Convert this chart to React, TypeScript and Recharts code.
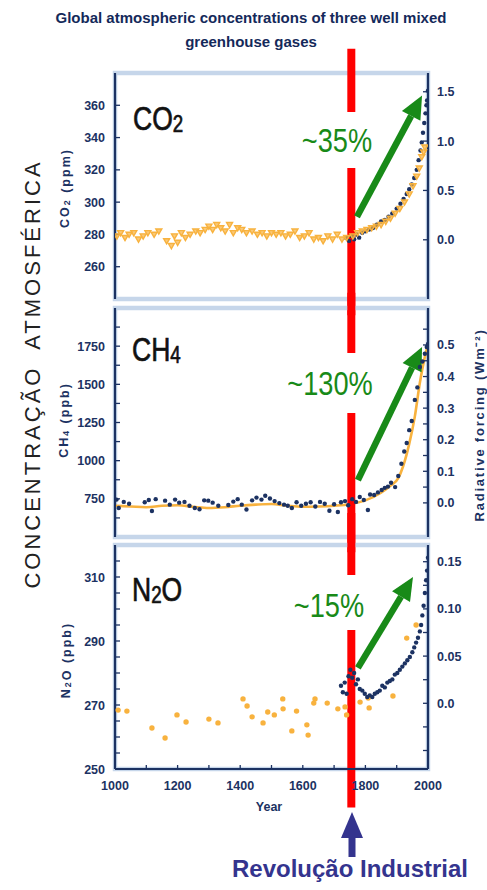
import React from "react";
import {
  ComposedChart,
  Line,
  Scatter,
  XAxis,
  YAxis,
  ReferenceLine,
  ReferenceArea,
} from "recharts";

const FONT = "'Liberation Sans', Arial, sans-serif";
const NAVY = "#1c3262";
const ORANGE = "#f8b23e";
const RED = "#ff0000";
const GREEN = "#188a18";
const INDIGO = "#34348e";
const HALO = "#c6d6ea";

// year of the industrial revolution marker
const REVOLUCAO = 1755;

type Pt = [number, number];
const rows = (pts: Pt[]) => pts.map(([year, value]) => ({ year, value }));

const years100 = [1000, 1100, 1200, 1300, 1400, 1500, 1600, 1700, 1800, 1900, 2000];
const years200 = [1000, 1200, 1400, 1600, 1800, 2000];

// ---- CO2 ----
const co2IceCore: Pt[] = [
  [1006, 279], [1018, 281], [1032, 278], [1045, 280], [1060, 281], [1075, 277], [1090, 279],
  [1105, 281], [1125, 280], [1140, 282], [1165, 276], [1180, 273], [1190, 279], [1200, 275],
  [1212, 281], [1225, 278], [1240, 280], [1258, 282], [1272, 281], [1288, 283], [1300, 285],
  [1312, 283], [1325, 286], [1338, 284], [1352, 282], [1366, 286], [1378, 281], [1392, 284],
  [1405, 283], [1420, 281], [1438, 282], [1455, 280], [1470, 281], [1485, 279], [1500, 281],
  [1515, 280], [1530, 281], [1545, 279], [1560, 280], [1575, 282], [1590, 278], [1605, 279],
  [1620, 281], [1635, 277], [1650, 278], [1665, 276], [1680, 279], [1695, 277], [1710, 280],
  [1725, 277], [1740, 278], [1760, 279], [1775, 281], [1790, 282], [1805, 283], [1820, 284],
  [1835, 285], [1850, 286], [1865, 288], [1880, 290], [1895, 293], [1910, 296], [1925, 300],
  [1940, 305], [1952, 310], [1964, 316], [1972, 321], [1980, 328], [1986, 331], [1990, 334],
];
const co2Direct: Pt[] = [
  [1738, 278], [1748, 276], [1756, 279], [1764, 277], [1772, 280], [1780, 278], [1790, 281],
  [1800, 282], [1812, 283], [1824, 284], [1836, 286], [1850, 288], [1862, 289], [1874, 291],
  [1886, 293], [1900, 296], [1912, 299], [1922, 302], [1932, 305], [1940, 308], [1948, 311],
  [1956, 315], [1964, 320], [1970, 326], [1976, 332], [1980, 337], [1984, 343], [1988, 349],
  [1992, 355], [1995, 360], [1997, 363], [2000, 369],
];
const co2LeftTicks = [260, 280, 300, 320, 340, 360];
const co2RightTicks = [0, 0.5, 1.0, 1.5];

// ---- CH4 ----
const ch4Smooth: Pt[] = [
  [1000, 705], [1050, 700], [1100, 695], [1150, 705], [1200, 708], [1250, 698], [1300, 690],
  [1350, 695], [1400, 705], [1450, 712], [1500, 716], [1550, 705], [1600, 698], [1650, 700],
  [1700, 705], [1750, 715], [1800, 740], [1850, 790], [1880, 835], [1905, 885], [1920, 960],
  [1940, 1110], [1958, 1290], [1974, 1510], [1990, 1680], [2000, 1760],
];
const ch4Samples: Pt[] = [
  [1005, 745], [1012, 690], [1028, 730], [1045, 718], [1095, 728], [1108, 742], [1118, 670],
  [1130, 748], [1160, 738], [1175, 712], [1192, 745], [1205, 725], [1222, 730], [1238, 705],
  [1255, 690], [1270, 682], [1285, 740], [1298, 738], [1312, 725], [1330, 705], [1362, 710],
  [1378, 732], [1392, 748], [1405, 712], [1420, 680], [1438, 740], [1452, 758], [1468, 745],
  [1480, 770], [1495, 752], [1510, 735], [1525, 722], [1540, 712], [1552, 705], [1565, 690],
  [1580, 728], [1595, 705], [1610, 718], [1625, 728], [1640, 700], [1655, 730], [1670, 718],
  [1685, 672], [1700, 715], [1712, 664], [1722, 728], [1735, 735], [1745, 708], [1758, 748],
  [1770, 730], [1782, 762], [1795, 742], [1808, 677], [1815, 778], [1828, 775], [1840, 792],
  [1852, 808], [1862, 822], [1872, 830], [1882, 855], [1895, 827], [1905, 900], [1915, 980],
  [1924, 1060], [1932, 1116], [1940, 1200], [1948, 1260], [1958, 1398], [1966, 1480],
  [1974, 1614], [1982, 1650], [1990, 1700], [1996, 1745], [2000, 1765],
];
const ch4LeftTicks = [625, 750, 875, 1000, 1125, 1250, 1375, 1500, 1625, 1750, 1875];
const ch4LeftLabels = [750, 1000, 1250, 1500, 1750];
const ch4RightTicks = [0, 0.05, 0.1, 0.15, 0.2, 0.25, 0.3, 0.35, 0.4, 0.45, 0.5, 0.55];
const ch4RightLabels = [0, 0.1, 0.2, 0.3, 0.4, 0.5];

// ---- N2O ----
const n2oIceCore: Pt[] = [
  [1010, 268.4], [1038, 268.1], [1118, 262.8], [1160, 259.7], [1198, 266.9], [1227, 264.7],
  [1300, 265.6], [1329, 264.4], [1409, 271.9], [1422, 269.7], [1438, 266.3], [1473, 264.4],
  [1488, 267.8], [1509, 266.9], [1536, 271.9], [1537, 268.8], [1565, 261.9], [1580, 268.1],
  [1613, 263.8], [1617, 260.6], [1635, 270.6], [1639, 271.9], [1678, 270.6], [1712, 268.8],
  [1735, 269.4], [1740, 266.9], [1783, 270.9], [1809, 272.2], [1812, 269.1], [1888, 272.8],
  [1932, 290.9], [1962, 295.0],
];
const n2oRecent: Pt[] = [
  [1722, 276], [1728, 274], [1734, 277], [1740, 273.5], [1746, 279], [1752, 281], [1758, 278.5],
  [1764, 280], [1770, 276.5], [1776, 278], [1782, 275], [1790, 274.5], [1798, 273.5],
  [1806, 272.5], [1814, 273], [1822, 272.5], [1830, 273.5], [1838, 274], [1846, 274.5],
  [1854, 276], [1862, 275.5], [1870, 277], [1878, 277.5], [1886, 278], [1894, 279.5],
  [1902, 280], [1910, 281], [1918, 282], [1926, 283], [1934, 284], [1942, 285], [1950, 286.5],
  [1956, 288], [1962, 289.5], [1968, 291], [1974, 293], [1978, 295], [1982, 298], [1986, 301],
  [1990, 305], [1994, 309], [1997, 312], [2000, 316],
];
const n2oLeftTicks = [250, 255, 260, 265, 270, 275, 280, 285, 290, 295, 300, 305, 310, 315];
const n2oLeftLabels = [250, 270, 290, 310];
const n2oRightTicks = [-0.05, -0.025, 0, 0.025, 0.05, 0.075, 0.1, 0.125, 0.15];
const n2oRightLabels = [0, 0.05, 0.1, 0.15];

const near = (list: number[], v: number) => list.some((l) => Math.abs(l - v) < 1e-6);

const tickLabel =
  (anchor: "start" | "end" | "middle", labels: number[], fmt: (v: number) => string, dy: string) =>
  (props: any) => {
    const { x, y, payload } = props;
    if (!near(labels, payload.value)) return <g />;
    return (
      <text x={x} y={y} dy={dy} textAnchor={anchor} fill={NAVY} fontSize={12.5} fontWeight={700} fontFamily={FONT}>
        {fmt(payload.value)}
      </text>
    );
  };

const noTick = () => <g />;

const navyDot = (p: any) => <circle cx={p.cx} cy={p.cy} r={2.2} fill={NAVY} />;
const orangeDot = (p: any) => <circle cx={p.cx} cy={p.cy} r={2.7} fill={ORANGE} />;
const orangeTri = (p: any) => (
  <polygon
    points={`${p.cx},${p.cy + 3} ${p.cx - 3},${p.cy - 2.2} ${p.cx + 3},${p.cy - 2.2}`}
    fill={ORANGE}
    fillOpacity={0.7}
    stroke={ORANGE}
    strokeWidth={1.4}
  />
);

const arrowShape = (props: any) => {
  const { x1, y1, x2, y2 } = props;
  const dx = x2 - x1;
  const dy = y2 - y1;
  const len = Math.hypot(dx, dy) || 1;
  const ux = dx / len;
  const uy = dy / len;
  const bx = x2 - ux * 23;
  const by = y2 - uy * 23;
  const px = -uy * 10.5;
  const py = ux * 10.5;
  return (
    <g>
      <line x1={x1} y1={y1} x2={bx} y2={by} stroke={GREEN} strokeWidth={6.5} />
      <polygon points={`${x2},${y2} ${bx + px},${by + py} ${bx - px},${by - py}`} fill={GREEN} />
    </g>
  );
};

const axisLine = { stroke: NAVY, strokeWidth: 2.2 };
const tickLine = { stroke: NAVY, strokeWidth: 1.3 };

type PanelProps = {
  height: number;
  margin: { top: number; bottom: number; left: number; right: number };
  leftDomain: [number, number];
  leftTicks: number[];
  leftLabels: number[];
  rightDomain: [number, number];
  rightTicks: number[];
  rightLabels: number[];
  rightFmt: (v: number) => string;
  xTicks: number[];
  xLabels: number[];
  redSpan: [number, number];
  arrow: [Pt, Pt];
  children: React.ReactNode;
};

function Panel(p: PanelProps) {
  return (
    <ComposedChart width={487} height={p.height} margin={p.margin}>
      <XAxis
        xAxisId={0}
        type="number"
        dataKey="year"
        domain={[1000, 2000]}
        allowDataOverflow
        ticks={p.xTicks}
        interval={0}
        tickSize={-4}
        tickMargin={16}
        height={p.xLabels.length ? 30 : 0}
        axisLine={axisLine}
        tickLine={tickLine}
        tick={p.xLabels.length ? tickLabel("middle", p.xLabels, (v) => String(v), "0.71em") : noTick}
      />
      <XAxis
        xAxisId="top"
        orientation="top"
        type="number"
        domain={[1000, 2000]}
        allowDataOverflow
        ticks={p.xTicks}
        interval={0}
        tickSize={-4}
        height={0}
        axisLine={axisLine}
        tickLine={tickLine}
        tick={noTick}
      />
      <YAxis
        yAxisId={0}
        type="number"
        domain={p.leftDomain}
        allowDataOverflow
        ticks={p.leftTicks}
        interval={0}
        width={45}
        tickSize={-5}
        tickMargin={15}
        axisLine={axisLine}
        tickLine={tickLine}
        tick={tickLabel("end", p.leftLabels, (v) => String(v), "0.36em")}
      />
      <YAxis
        yAxisId="rf"
        orientation="right"
        type="number"
        domain={p.rightDomain}
        allowDataOverflow
        ticks={p.rightTicks}
        interval={0}
        width={45}
        tickSize={-5}
        tickMargin={14}
        axisLine={axisLine}
        tickLine={tickLine}
        tick={tickLabel("start", p.rightLabels, p.rightFmt, "0.36em")}
      />
      <ReferenceArea
        x1={1000}
        x2={2000}
        y1={p.leftDomain[0]}
        y2={p.leftDomain[1]}
        fill="none"
        stroke={HALO}
        strokeWidth={4.5}
        ifOverflow="visible"
      />
      {p.children}
      <ReferenceLine
        segment={[
          { x: REVOLUCAO, y: p.redSpan[0] },
          { x: REVOLUCAO, y: p.redSpan[1] },
        ]}
        stroke={RED}
        strokeWidth={8}
        ifOverflow="visible"
      />
      <ReferenceLine
        segment={[
          { x: p.arrow[0][0], y: p.arrow[0][1] },
          { x: p.arrow[1][0], y: p.arrow[1][1] },
        ]}
        shape={arrowShape}
        ifOverflow="visible"
      />
    </ComposedChart>
  );
}

const sub = (t: string) => (
  <tspan fontSize="0.7em" dy="0.08em">
    {t}
  </tspan>
);

export default function App() {
  return (
    <div style={{ position: "absolute", left: 0, top: 0, width: 487, height: 890, background: "#fff" }}>
      <style>{`.recharts-surface{overflow:visible}`}</style>

      <div style={{ position: "absolute", left: 0, top: 40 }}>
        <Panel
          height={265}
          margin={{ top: 33, bottom: 6, left: 70, right: 14 }}
          leftDomain={[240, 380]}
          leftTicks={co2LeftTicks}
          leftLabels={co2LeftTicks}
          rightDomain={[-0.6, 1.69]}
          rightTicks={co2RightTicks}
          rightLabels={co2RightTicks}
          rightFmt={(v) => v.toFixed(1)}
          xTicks={years200}
          xLabels={[]}
          redSpan={[395, 230]}
          arrow={[[1773, 291], [1981, 366]]}
        >
          <Scatter data={rows(co2Direct)} dataKey="value" shape={navyDot} isAnimationActive={false} />
          <Scatter data={rows(co2IceCore)} dataKey="value" shape={orangeTri} isAnimationActive={false} />
        </Panel>
      </div>

      <div style={{ position: "absolute", left: 0, top: 305 }}>
        <Panel
          height={236}
          margin={{ top: 3, bottom: 4, left: 70, right: 14 }}
          leftDomain={[500, 2000]}
          leftTicks={ch4LeftTicks}
          leftLabels={ch4LeftLabels}
          rightDomain={[-0.108, 0.617]}
          rightTicks={ch4RightTicks}
          rightLabels={ch4RightLabels}
          rightFmt={(v) => v.toFixed(1)}
          xTicks={years100}
          xLabels={[]}
          redSpan={[2100, 400]}
          arrow={[[1776, 873], [1981, 1745]]}
        >
          <Scatter data={rows(ch4Samples)} dataKey="value" shape={navyDot} isAnimationActive={false} />
          <Line
            data={rows(ch4Smooth)}
            dataKey="value"
            type="monotone"
            stroke={ORANGE}
            strokeWidth={2.6}
            dot={false}
            isAnimationActive={false}
          />
        </Panel>
      </div>

      <div style={{ position: "absolute", left: 0, top: 541 }}>
        <Panel
          height={275}
          margin={{ top: 4, bottom: 17, left: 70, right: 14 }}
          leftDomain={[250, 320]}
          leftTicks={n2oLeftTicks}
          leftLabels={n2oLeftLabels}
          rightDomain={[-0.0696, 0.1677]}
          rightTicks={n2oRightTicks}
          rightLabels={n2oRightLabels}
          rightFmt={(v) => (v === 0 ? "0.0" : v.toFixed(2))}
          xTicks={years100}
          xLabels={years200}
          redSpan={[330, 238]}
          arrow={[[1776, 281.6], [1952, 310]]}
        >
          <Scatter data={rows(n2oIceCore)} dataKey="value" shape={orangeDot} isAnimationActive={false} />
          <Scatter data={rows(n2oRecent)} dataKey="value" shape={navyDot} isAnimationActive={false} />
        </Panel>
      </div>

      <svg
        width={487}
        height={890}
        style={{ position: "absolute", left: 0, top: 0, pointerEvents: "none" }}
        fontFamily={FONT}
      >
        {/* title */}
        <text x={251} y={23} textAnchor="middle" fontSize={15} fontWeight={700} fill="#14295a">
          Global atmospheric concentrations of three well mixed
        </text>
        <text x={251} y={47} textAnchor="middle" fontSize={15} fontWeight={700} fill="#14295a">
          greenhouse gases
        </text>

        {/* big left caption */}
        <text
          transform="translate(40,374) rotate(-90)"
          textAnchor="middle"
          fontSize={22}
          letterSpacing={3}
          wordSpacing={8}
          fill="#222"
        >
          CONCENTRAÇÃO ATMOSFÉRICA
        </text>

        {/* axis titles */}
        <g fill={NAVY} fontSize={12.5} fontWeight={700} letterSpacing={2}>
          <text transform="translate(69,188) rotate(-90)" textAnchor="middle">
            CO{sub("2")} (ppm)
          </text>
          <text transform="translate(68,420) rotate(-90)" textAnchor="middle">
            CH{sub("4")} (ppb)
          </text>
          <text transform="translate(70,660) rotate(-90)" textAnchor="middle">
            N{sub("2")}O (ppb)
          </text>
          <text transform="translate(484,425) rotate(-90)" textAnchor="middle" fontSize={13} letterSpacing={1.8}>
            Radiative forcing (Wm⁻²)
          </text>
          <text x={269} y={811} textAnchor="middle" fontSize={12.5} letterSpacing={0}>
            Year
          </text>
        </g>

        {/* gas names */}
        <g fill="#111" stroke="#111" strokeWidth={0.7} fontSize={34}>
          <text transform="translate(133,130) scale(0.78,1)">
            CO<tspan fontSize={24} dy={2}>2</tspan>
          </text>
          <text transform="translate(132,361) scale(0.78,1)">
            CH<tspan fontSize={24} dy={2}>4</tspan>
          </text>
          <text transform="translate(132,601) scale(0.78,1)">
            N<tspan fontSize={24} dy={2}>2</tspan>
            <tspan dy={-2}>O</tspan>
          </text>
        </g>

        {/* gaps in the red line behind the labels */}
        <rect x={345} y={112} width={14} height={56} fill="#fff" />
        <rect x={345} y={353} width={14} height={60} fill="#fff" />
        <rect x={345} y={575} width={14} height={55} fill="#fff" />

        {/* percentage labels */}
        <g fill={GREEN} fontSize={34}>
          <text transform="translate(337,152) scale(0.8,1)" textAnchor="middle">~35%</text>
          <text transform="translate(330,395) scale(0.8,1)" textAnchor="middle">~130%</text>
          <text transform="translate(329,617) scale(0.8,1)" textAnchor="middle">~15%</text>
        </g>

        {/* industrial revolution pointer */}
        <polygon points="352,812 341,838 363,838" fill={INDIGO} />
        <rect x={348.5} y={836} width={7} height={21} fill={INDIGO} />
        <text x={350} y={877} textAnchor="middle" fontSize={24} fontWeight={700} fill={INDIGO}>
          Revolução Industrial
        </text>
      </svg>
    </div>
  );
}
